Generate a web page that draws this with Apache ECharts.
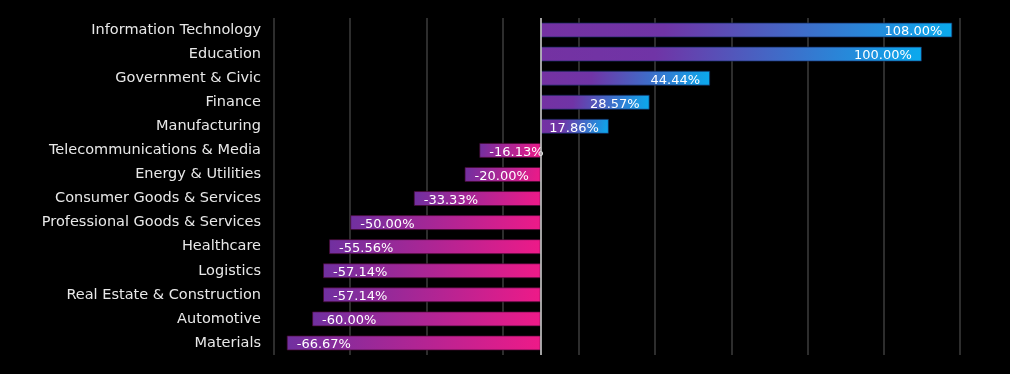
<!DOCTYPE html>
<html>
<head>
<meta charset="utf-8">
<script src="https://cdn.jsdelivr.net/npm/echarts@6/dist/echarts.min.js"></script>
<style>
html,body{margin:0;padding:0;background:#000;}
#chart{width:1010px;height:374px;}
</style>
</head>
<body>
<div id="chart"></div>
<script>
var categories = ["Information Technology","Education","Government & Civic","Finance","Manufacturing","Telecommunications & Media","Energy & Utilities","Consumer Goods & Services","Professional Goods & Services","Healthcare","Logistics","Real Estate & Construction","Automotive","Materials"];
var values = [108.00,100.00,44.44,28.57,17.86,-16.13,-20.00,-33.33,-50.00,-55.56,-57.14,-57.14,-60.00,-66.67];
var gridValues = [-70,-50,-30,-10,10,30,50,70,90,110];
var axisMin = -70, axisMax = 110;

var FONT = '"Century Gothic","DejaVu Sans",sans-serif';
var posGrad = new echarts.graphic.LinearGradient(0,0,1,1,[{offset:0,color:'#7432A2'},{offset:0.3,color:'#7034A6'},{offset:1,color:'#0AAAEE'}]);
var negGrad = new echarts.graphic.LinearGradient(0,0,1,1,[{offset:0,color:'#7030A0'},{offset:1,color:'#EE1A88'}]);

var barData = values.map(function(v){
  return {
    value: v,
    itemStyle: {color: v >= 0 ? posGrad : negGrad, borderColor: v >= 0 ? 'rgba(20,40,90,0.7)' : 'rgba(70,10,50,0.7)', borderWidth: 1},
    label: {position: v >= 0 ? 'insideRight' : 'insideLeft'}
  };
});

var chart = echarts.init(document.getElementById('chart'), null, {renderer:'canvas'});
chart.setOption({
  backgroundColor: '#000',
  animation: false,
  grid: {left: 274, right: 50, top: 18, bottom: 19, containLabel: false},
  xAxis: {
    type: 'value', min: axisMin, max: axisMax,
    axisLabel: {show: false}, axisTick: {show: false}, axisLine: {show: false},
    splitLine: {show: false}
  },
  yAxis: {
    type: 'category', data: categories, inverse: true,
    axisLine: {show: false}, axisTick: {show: false},
    axisLabel: {color: '#e8e8e8', fontSize: 14.5, fontFamily: FONT, margin: 13}
  },
  series: [
    {
      type: 'line', data: [], z: 0, silent: true,
      markLine: {
        z: 0,
        symbol: 'none', silent: true, animation: false,
        label: {show: false},
        lineStyle: {color: '#3c3c3c', width: 1.5, type: 'solid'},
        data: gridValues.map(function(g){ return {xAxis: g}; })
      }
    },
    {
      type: 'bar', data: barData, barWidth: 15, z: 2,
      label: {
        show: true, color: '#ffffff', fontSize: 13, fontFamily: FONT, distance: 10,
        offset: [0, 2],
        formatter: function(p){ return p.value.toFixed(2) + '%'; }
      },
      markLine: {
        z: 4,
        symbol: 'none', silent: true, animation: false,
        label: {show: false},
        lineStyle: {color: '#d9d9d9', width: 1.5, type: 'solid'},
        data: [{xAxis: 0}]
      }
    }
  ]
});
</script>
</body>
</html>
